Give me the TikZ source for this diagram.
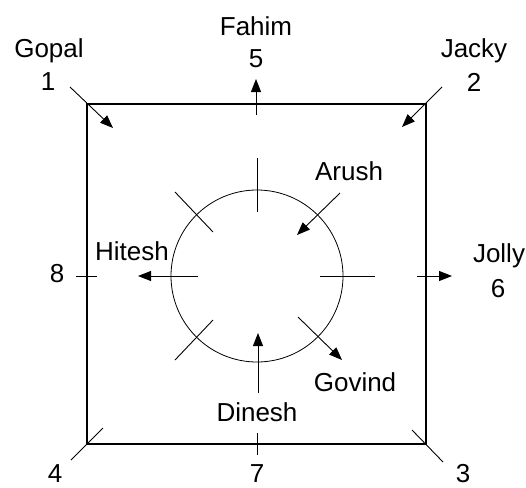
\documentclass[tikz,border=0pt]{standalone}
\usepackage{fontspec}
\setmainfont{Liberation Sans}
\usetikzlibrary{arrows.meta}

\begin{document}
\begin{tikzpicture}[x=1pt, y=-1pt, every node/.style={inner sep=0pt, font=\fontsize{26}{30}\selectfont}, hall/.style={draw, line width=1.5pt, minimum width=339pt, minimum height=340pt}, ring/.style={draw, circle, line width=0.8pt, minimum size=172pt}, tick/.style={line width=0.9pt}, arr/.style={tick, -{Triangle[length=13pt, width=10pt]}}]
\useasboundingbox (0,0) rectangle (526,487);
\node[hall] (hall) at (256.5,274) {};
\node[ring] (ring) at (257,276) {};
\node (fahim) at (256,26) {Fahim};
\node (n5) at (256,59) {5};
\node (gopal) at (49,51) {Gopal};
\node (n1) at (48,82) {1};
\node (jacky) at (474,51) {Jacky};
\node (n2) at (474,82) {2};
\node (n8) at (57,274) {8};
\node (jolly) at (499,256) {Jolly};
\node (n6) at (498,289) {6};
\node (n4) at (55,474) {4};
\node (n7) at (257,474) {7};
\node (n3) at (463,474) {3};
\node (hitesh) at (132,251) {Hitesh};
\node (arush) at (349,171) {Arush};
\node (govind) at (355,382) {Govind};
\node (dinesh) at (257,412) {Dinesh};
\coordinate (gopalA) at (70,87);
\coordinate (gopalB) at (113,128);
\coordinate (fahimA) at (256,115);
\coordinate (fahimB) at (256,79);
\coordinate (jackyA) at (442,87);
\coordinate (jackyB) at (402,127);
\coordinate (eightA) at (76,276);
\coordinate (eightB) at (97,276);
\coordinate (jollyA) at (417,276);
\coordinate (jollyB) at (452,276);
\coordinate (fourA) at (103,428);
\coordinate (fourB) at (71,460);
\coordinate (sevenA) at (257,433);
\coordinate (sevenB) at (257,455);
\coordinate (threeA) at (412,430);
\coordinate (threeB) at (443,462);
\coordinate (northA) at (257,158);
\coordinate (northB) at (257,212);
\coordinate (arushA) at (340,193);
\coordinate (arushB) at (297,235);
\coordinate (eastA) at (320,276);
\coordinate (eastB) at (375,276);
\coordinate (govindA) at (298,317);
\coordinate (govindB) at (342,360);
\coordinate (dineshA) at (258,393);
\coordinate (dineshB) at (258,333);
\coordinate (swA) at (213,320);
\coordinate (swB) at (175,360);
\coordinate (hiteshA) at (198,276);
\coordinate (hiteshB) at (138,276);
\coordinate (nwA) at (175,192);
\coordinate (nwB) at (213,232);
\draw[arr] (gopalA)--(gopalB);
\draw[arr] (fahimA)--(fahimB);
\draw[arr] (jackyA)--(jackyB);
\draw[tick] (eightA)--(eightB);
\draw[arr] (jollyA)--(jollyB);
\draw[tick] (fourA)--(fourB);
\draw[tick] (sevenA)--(sevenB);
\draw[tick] (threeA)--(threeB);
\draw[tick] (northA)--(northB);
\draw[arr] (arushA)--(arushB);
\draw[tick] (eastA)--(eastB);
\draw[arr] (govindA)--(govindB);
\draw[arr] (dineshA)--(dineshB);
\draw[tick] (swA)--(swB);
\draw[arr] (hiteshA)--(hiteshB);
\draw[tick] (nwA)--(nwB);
\end{tikzpicture}
\end{document}
